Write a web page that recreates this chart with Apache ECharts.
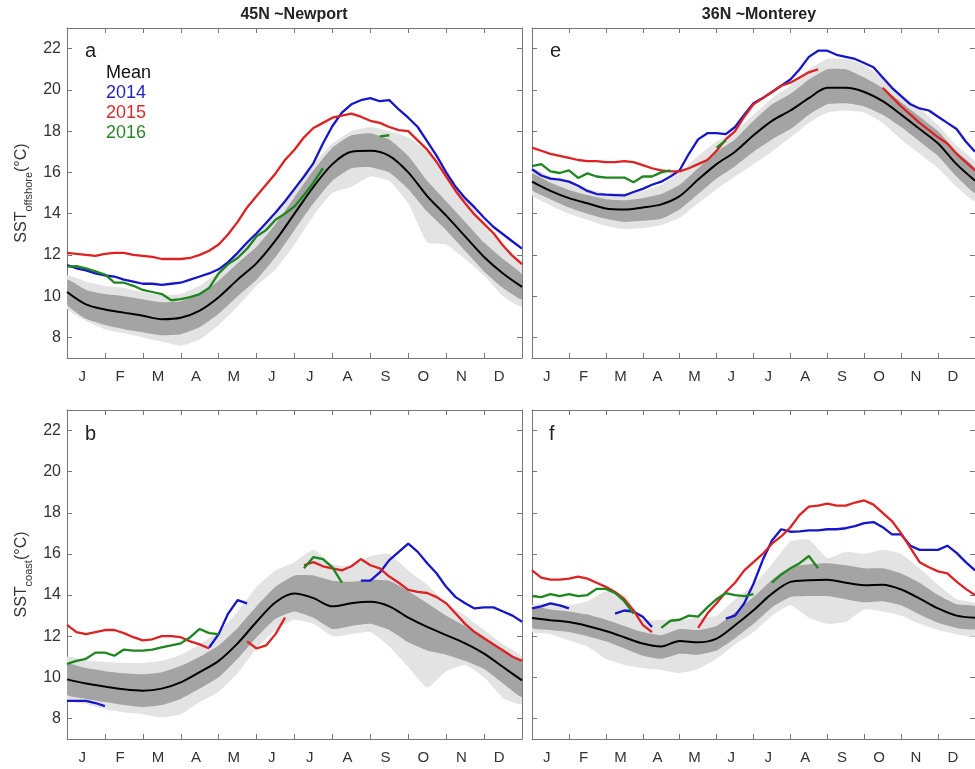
<!DOCTYPE html>
<html><head><meta charset="utf-8">
<script src="https://cdn.jsdelivr.net/npm/echarts@6/dist/echarts.min.js"></script>
<style>html,body{margin:0;padding:0;background:#fff}#c{width:975px;height:769px}</style>
</head><body><div id="c"></div>
<script>
// ---------- data ----------
const MONTHS = ['J','F','M','A','M','J','J','A','S','O','N','D'];
const Y_TICKS = [8,10,12,14,16,18,20,22];
const X_TICKS = [1,2,3,4,5,6,7,8,9,10,11];
// month positions (0 = 1 Jan, 12 = 31 Dec)
const X_HALF = [0,0.5,1,1.5,2,2.5,3,3.5,4,4.5,5,5.5,6,6.5,7,7.5,8,8.5,9,9.5,10,10.5,11,11.5,12];
const X_QUARTER = [0,0.25,0.5,0.75,1,1.25,1.5,1.75,2,2.25,2.5,2.75,3,3.25,3.5,3.75,4,4.25,4.5,4.75,5,5.25,5.5,5.75,6,6.25,6.5,6.75,7,7.25,7.5,7.75,8,8.25,8.5,8.75,9,9.25,9.5,9.75,10,10.25,10.5,10.75,11,11.25,11.5,11.75,12];

// Panel a : 45N Newport, offshore
const A_MEAN     = [10.2,9.6,9.35,9.2,9.05,8.88,8.95,9.3,9.95,10.8,11.6,12.7,14.0,15.3,16.4,17.0,17.05,16.8,16.0,14.85,13.9,12.9,11.9,11.1,10.45];
const A_DARK_HI  = [10.8,10.3,10.1,10.0,9.85,9.7,9.75,10.1,10.75,11.6,12.4,13.5,14.8,16.1,17.2,17.8,17.9,17.6,16.8,15.6,14.6,13.6,12.6,11.8,11.05];
const A_DARK_LO  = [9.6,8.9,8.6,8.4,8.25,8.1,8.15,8.5,9.15,10.0,10.8,11.9,13.2,14.5,15.6,16.2,16.25,16.0,15.2,14.1,13.2,12.2,11.2,10.4,9.85];
const A_LIGHT_HI = [11.0,10.7,10.5,10.4,10.2,10.05,10.1,10.5,11.2,12.1,13.0,14.0,15.2,16.4,17.4,18.0,18.2,18.0,17.7,17.0,15.9,14.8,13.6,12.5,11.6];
const A_LIGHT_LO = [9.4,8.8,8.4,8.2,8.0,7.8,7.6,7.9,8.6,9.5,10.5,11.3,12.5,13.9,15.0,15.3,15.8,15.6,14.5,12.6,12.5,11.8,11.0,10.0,9.5];
const A_2014 = [11.5,11.35,11.25,11.1,11.0,10.95,10.8,10.7,10.6,10.6,10.55,10.6,10.65,10.8,10.95,11.1,11.3,11.65,12.1,12.6,13.05,13.55,14.05,14.6,15.2,15.8,16.45,17.4,18.25,18.9,19.3,19.5,19.6,19.45,19.5,19.05,18.65,18.2,17.5,16.8,16.0,15.3,14.75,14.3,13.8,13.35,13.0,12.65,12.3];
const A_2015 = [12.1,12.05,12.0,11.95,12.05,12.1,12.1,12.0,11.95,11.9,11.8,11.8,11.8,11.85,12.0,12.2,12.5,13.0,13.6,14.3,14.85,15.4,15.95,16.6,17.1,17.7,18.15,18.4,18.65,18.75,18.85,18.7,18.5,18.4,18.2,18.05,18.0,17.55,17.1,16.5,15.8,15.1,14.5,13.95,13.5,13.05,12.45,11.95,11.55];
const A_2016 = [11.43,11.45,11.35,11.2,11.05,10.65,10.65,10.5,10.3,10.2,10.1,9.8,9.85,9.95,10.1,10.4,11.1,11.55,11.85,12.3,12.9,13.2,13.7,14.0,14.35,14.9,15.5,16.2,null,null,null,null,null,17.75,17.8,null,null,null,null,null,null,null,null,null,null,null,null,null,null];

// Panel e : 36N Monterey, offshore
const E_MEAN     = [15.55,15.1,14.75,14.5,14.25,14.2,14.3,14.45,14.85,15.65,16.4,17.0,17.8,18.5,19.0,19.6,20.1,20.1,19.9,19.45,18.8,18.1,17.4,16.4,15.6];
const E_DARK_HI  = [15.95,15.5,15.15,14.9,14.7,14.65,14.75,14.95,15.4,16.2,17.0,17.6,18.5,19.3,19.8,20.5,21.0,21.0,20.6,20.1,19.4,18.7,18.0,17.0,16.2];
const E_DARK_LO  = [15.15,14.7,14.3,14.0,13.75,13.6,13.65,13.75,14.2,14.95,15.7,16.3,17.0,17.6,18.1,18.8,19.3,19.35,19.2,18.8,18.2,17.5,16.8,15.8,15.0];
const E_LIGHT_HI = [16.2,15.8,15.5,15.2,15.0,15.0,15.1,15.4,16.0,16.8,17.5,18.0,18.8,19.6,20.2,21.0,21.5,21.5,21.2,20.6,19.8,19.1,18.3,17.3,16.5];
const E_LIGHT_LO = [14.9,14.4,14.0,13.7,13.4,13.25,13.3,13.45,13.8,14.5,15.2,15.8,16.4,17.0,17.7,18.4,18.9,19.0,18.9,18.4,17.6,16.9,16.2,15.3,14.6];
const E_2014 = [16.15,15.85,15.7,15.65,15.55,15.35,15.1,14.95,14.92,14.9,14.88,15.05,15.2,15.4,15.55,15.8,16.1,16.9,17.6,17.9,17.9,17.85,18.2,18.8,19.35,19.6,19.9,20.2,20.5,21.0,21.6,21.9,21.9,21.7,21.6,21.5,21.3,21.1,20.6,20.1,19.7,19.3,19.1,19.0,18.7,18.4,18.1,17.5,17.0];
const E_2015 = [17.2,17.05,16.9,16.8,16.7,16.6,16.55,16.55,16.5,16.5,16.55,16.5,16.35,16.2,16.1,16.05,16.05,16.2,16.4,16.6,17.05,17.6,18.0,18.7,19.3,19.6,19.9,20.2,20.35,20.6,20.85,21.0,null,null,null,null,null,null,20.1,19.65,19.2,18.8,18.4,18.05,17.7,17.4,16.9,16.5,16.1];
const E_2016 = [16.3,16.4,16.05,15.97,16.1,15.73,15.95,15.8,15.75,15.75,15.75,15.52,15.8,15.8,16.0,16.1,null,null,null,null,17.2,17.55,null,null,null,null,null,null,null,null,null,null,null,null,null,null,null,null,null,null,null,null,null,null,null,null,null,null,null];

// Panel b : 45N Newport, coast
const B_MEAN     = [9.9,9.7,9.55,9.42,9.35,9.45,9.75,10.25,10.8,11.65,12.7,13.65,14.07,13.85,13.45,13.6,13.67,13.45,12.9,12.45,12.05,11.65,11.15,10.5,9.85];
const B_DARK_HI  = [10.65,10.45,10.3,10.2,10.15,10.25,10.55,11.0,11.55,12.4,13.45,14.4,14.95,14.95,14.7,14.65,14.75,14.7,14.2,13.6,13.0,12.5,11.95,11.35,10.7];
const B_DARK_LO  = [9.15,8.95,8.8,8.65,8.55,8.65,8.95,9.45,10.0,10.9,11.95,12.85,13.2,12.9,12.35,12.5,12.6,12.3,11.7,11.3,11.1,10.8,10.4,9.7,9.05];
const B_LIGHT_HI = [11.0,10.8,10.75,10.7,10.7,10.8,11.1,11.6,12.2,13.2,14.4,15.2,15.6,16.2,15.5,15.4,15.9,16.0,15.2,14.5,13.6,13.0,12.3,11.6,11.0];
const B_LIGHT_LO = [8.9,8.7,8.45,8.3,8.2,8.05,8.2,8.8,9.3,10.2,11.4,12.3,12.8,12.6,12.0,12.1,12.2,11.5,10.5,9.5,10.3,10.6,10.0,9.0,8.7];
const B_2014 = [8.85,8.85,8.85,8.75,8.6,null,null,null,null,null,null,null,null,null,null,11.45,12.1,13.1,13.75,13.6,null,null,null,null,null,null,null,null,null,null,null,14.7,14.7,15.1,15.7,16.1,16.5,16.1,15.55,15.05,14.4,13.9,13.6,13.35,13.4,13.4,13.2,13.0,12.7];
const B_2015 = [12.55,12.2,12.1,12.2,12.3,12.3,12.15,11.95,11.8,11.85,12.0,12.0,11.95,11.75,11.6,11.4,null,null,null,11.75,11.4,11.55,12.1,12.9,null,15.45,15.6,15.4,15.3,15.2,15.4,15.75,15.45,15.3,14.9,14.6,14.25,14.15,14.1,13.9,13.6,13.1,12.6,12.2,11.9,11.6,11.3,11.0,10.8];
const B_2016 = [10.65,10.8,10.9,11.2,11.2,11.05,11.35,11.3,11.3,11.35,11.45,11.55,11.65,11.95,12.35,12.15,12.1,null,null,null,null,null,null,null,null,15.3,15.85,15.75,15.35,14.6,null,null,null,null,null,null,null,null,null,null,null,null,null,null,null,null,null,null,null];

// Panel f : 36N Monterey, coast
const F_MEAN     = [12.88,12.78,12.69,12.5,12.25,11.95,11.64,11.5,11.77,11.7,11.88,12.53,13.26,14.07,14.64,14.72,14.75,14.6,14.48,14.5,14.27,13.83,13.35,13.0,12.9];
const F_DARK_HI  = [13.4,13.3,13.2,13.05,12.8,12.5,12.2,12.05,12.35,12.3,12.5,13.15,13.9,14.75,15.35,15.5,15.55,15.45,15.3,15.3,15.05,14.6,14.0,13.55,13.45];
const F_DARK_LO  = [12.4,12.3,12.2,12.0,11.75,11.4,11.05,10.9,11.15,11.1,11.3,11.9,12.6,13.4,13.9,13.95,13.95,13.8,13.65,13.7,13.5,13.05,12.65,12.4,12.35];
const F_LIGHT_HI = [13.5,13.6,13.5,13.7,14.2,14.0,12.8,12.8,12.8,12.9,13.0,13.8,14.5,15.5,16.6,16.7,15.8,16.1,16.0,16.2,16.0,15.3,14.5,13.8,13.6];
const F_LIGHT_LO = [12.2,12.1,11.8,11.5,10.9,10.6,10.45,10.35,10.2,10.4,10.9,11.6,12.2,13.0,13.5,12.9,12.6,12.7,13.3,13.2,13.0,12.6,12.3,12.1,12.0];
const F_2014 = [13.35,13.45,13.6,13.5,13.35,null,null,null,null,13.1,13.25,13.2,12.95,12.45,null,null,null,null,null,null,null,12.85,13.0,13.6,14.55,15.7,16.65,17.2,17.08,17.1,17.15,17.15,17.2,17.2,17.25,17.35,17.5,17.55,17.3,16.95,16.95,16.4,16.2,16.2,16.2,16.4,16.05,15.6,15.2];
const F_2015 = [15.2,14.85,14.75,14.75,14.8,14.9,14.8,14.6,14.4,14.15,13.8,13.25,12.55,12.2,null,null,null,null,12.4,13.1,13.6,14.15,14.6,15.2,15.6,16.0,16.5,16.85,17.3,17.9,18.3,18.35,18.45,18.35,18.35,18.5,18.6,18.4,18.0,17.6,17.0,16.3,15.6,15.35,15.15,15.05,14.65,14.3,14.0];
const F_2016 = [13.95,13.9,14.05,13.95,14.05,13.95,14.0,14.3,14.3,14.1,13.7,13.1,null,null,12.4,12.75,12.8,13.0,12.95,13.4,13.8,14.1,14.0,13.95,14.05,null,14.6,15.0,15.3,15.55,15.9,15.3,null,null,null,null,null,null,null,null,null,null,null,null,null,null,null,null,null];

const TITLES = ['45N ~Newport','36N ~Monterey'];
const PANEL_LETTERS = ['a','e','b','f'];

// ---------- chart ----------
const FONT = "'Liberation Sans', Arial, Helvetica, sans-serif";
const C_BLUE = '#1616c8', C_RED = '#dc2222', C_GREEN = '#1e861e';
const C_LIGHT = '#e3e3e3', C_DARK = '#a4a4a4', C_FRAME = '#777777', C_TXT = '#333333';

const PANELS = [
  {mean:A_MEAN, dHi:A_DARK_HI, dLo:A_DARK_LO, lHi:A_LIGHT_HI, lLo:A_LIGHT_LO, y14:A_2014, y15:A_2015, y16:A_2016},
  {mean:E_MEAN, dHi:E_DARK_HI, dLo:E_DARK_LO, lHi:E_LIGHT_HI, lLo:E_LIGHT_LO, y14:E_2014, y15:E_2015, y16:E_2016},
  {mean:B_MEAN, dHi:B_DARK_HI, dLo:B_DARK_LO, lHi:B_LIGHT_HI, lLo:B_LIGHT_LO, y14:B_2014, y15:B_2015, y16:B_2016},
  {mean:F_MEAN, dHi:F_DARK_HI, dLo:F_DARK_LO, lHi:F_LIGHT_HI, lLo:F_LIGHT_LO, y14:F_2014, y15:F_2015, y16:F_2016}
];
const GRIDS = [
  {left:67, top:28, width:455, height:330},
  {left:532, top:28, width:456, height:330},
  {left:67, top:410, width:455, height:329},
  {left:532, top:410, width:456, height:329}
];

function pairs(xs, ys){ return xs.map((x,k)=>[x, ys[k]==null ? '-' : ys[k]]); }

// band drawn as one polygon through the library's coordinate system
function bandSeries(i, lo, hi, color){
  return {
    type:'custom', xAxisIndex:2*i, yAxisIndex:2*i, silent:true, animation:false, clip:true,
    data: X_HALF.map((x,k)=>[x, lo[k], hi[k]]),
    encode:{x:0, y:[1,2]},
    renderItem:(params, api)=>{
      if (params.dataIndex !== 0) return null;
      const pts = [];
      for (let k = 0; k < X_HALF.length; k++) pts.push(api.coord([X_HALF[k], hi[k]]));
      for (let k = X_HALF.length - 1; k >= 0; k--) pts.push(api.coord([X_HALF[k], lo[k]]));
      return {type:'polygon', shape:{points:pts, smooth:0.15}, style:{fill:color, stroke:null}};
    }
  };
}

const xAxes = [], yAxes = [], series = [];
const tickStyle = {show:true, inside:true, length:5, lineStyle:{color:C_FRAME, width:1}};
const lineStyleAxis = {show:true, onZero:false, lineStyle:{color:C_FRAME, width:1}};

GRIDS.forEach((g, i) => {
  xAxes.push({
    type:'value', gridIndex:i, min:0, max:12, position:'bottom',
    axisLine:lineStyleAxis, splitLine:{show:false},
    axisTick:Object.assign({customValues:X_TICKS}, tickStyle),
    axisLabel:{show:true, customValues:MONTHS.map((m,k)=>k+0.4), margin:11,
      formatter:v=>MONTHS[Math.floor(v)], fontSize:15, color:C_TXT, fontFamily:FONT}
  });
  xAxes.push({
    type:'value', gridIndex:i, min:0, max:12, position:'top',
    axisLine:lineStyleAxis, splitLine:{show:false},
    axisTick:Object.assign({customValues:X_TICKS}, tickStyle),
    axisLabel:{show:false}
  });
  const left = (i % 2 === 0);
  const nameSub = i < 2 ? 'offshore' : 'coast';
  yAxes.push({
    type:'value', gridIndex:i, min:7, max:23, position:'left',
    axisLine:lineStyleAxis, splitLine:{show:false},
    axisTick:Object.assign({customValues:Y_TICKS}, tickStyle),
    axisLabel:{show:left, customValues:Y_TICKS, margin:6, fontSize:16, color:C_TXT, fontFamily:FONT},
    name: left ? '{m|SST}{s|' + nameSub + '}{m|(°C)}' : '',
    nameLocation:'middle', nameGap:33,
    nameTextStyle:{rich:{
      m:{fontSize:16, color:C_TXT, fontFamily:FONT, lineHeight:24},
      s:{fontSize:11, color:C_TXT, fontFamily:FONT, lineHeight:10, verticalAlign:'bottom'}
    }}
  });
  yAxes.push({
    type:'value', gridIndex:i, min:7, max:23, position:'right',
    axisLine:lineStyleAxis, splitLine:{show:false},
    axisTick:Object.assign({customValues:Y_TICKS}, tickStyle),
    axisLabel:{show:false}
  });

  const p = PANELS[i];
  const ax = {xAxisIndex:2*i, yAxisIndex:2*i};
  const base = Object.assign({type:'line', symbol:'none', showSymbol:false, animation:false, silent:true}, ax);
  series.push(bandSeries(i, p.lLo, p.lHi, C_LIGHT));
  series.push(bandSeries(i, p.dLo, p.dHi, C_DARK));
  series.push(Object.assign({}, base, {name:'Mean', smooth:0.3, data:pairs(X_HALF, p.mean), itemStyle:{color:'#000'}, lineStyle:{color:'#000', width:2}}));
  series.push(Object.assign({}, base, {name:'2014', data:pairs(X_QUARTER, p.y14), itemStyle:{color:C_BLUE}, lineStyle:{color:C_BLUE, width:2.3}}));
  series.push(Object.assign({}, base, {name:'2015', data:pairs(X_QUARTER, p.y15), itemStyle:{color:C_RED}, lineStyle:{color:C_RED, width:2.3}}));
  series.push(Object.assign({}, base, {name:'2016', data:pairs(X_QUARTER, p.y16), itemStyle:{color:C_GREEN}, lineStyle:{color:C_GREEN, width:2.3}}));
});

const titles = [
  {text:TITLES[0], left:294, top:7, textAlign:'center', padding:0, textStyle:{fontSize:16, fontWeight:'bold', color:'#222', fontFamily:FONT}},
  {text:TITLES[1], left:759, top:7, textAlign:'center', padding:0, textStyle:{fontSize:16, fontWeight:'bold', color:'#222', fontFamily:FONT}}
];
const letterPos = [[85,41],[550,41],[85,424],[549,424]];
PANEL_LETTERS.forEach((t,k)=>{
  titles.push({text:t, left:letterPos[k][0], top:letterPos[k][1], padding:0, textStyle:{fontSize:20, fontWeight:'normal', color:'#222', fontFamily:FONT}});
});

const chart = echarts.init(document.getElementById('c'), null, {renderer:'canvas'});
chart.setOption({
  backgroundColor:'#ffffff',
  animation:false,
  title:titles,
  legend:{
    show:true, orient:'vertical', left:95, top:58, itemWidth:0, itemHeight:0, itemGap:0,
    selectedMode:false,
    textStyle:{fontSize:18, lineHeight:20, fontFamily:FONT},
    data:[
      {name:'Mean', textStyle:{color:'#111'}},
      {name:'2014', textStyle:{color:'#2525b8'}},
      {name:'2015', textStyle:{color:'#d03030'}},
      {name:'2016', textStyle:{color:'#2a862a'}}
    ]
  },
  grid:GRIDS.map(g=>Object.assign({containLabel:false}, g)),
  xAxis:xAxes,
  yAxis:yAxes,
  series:series
});
</script>
</body></html>
